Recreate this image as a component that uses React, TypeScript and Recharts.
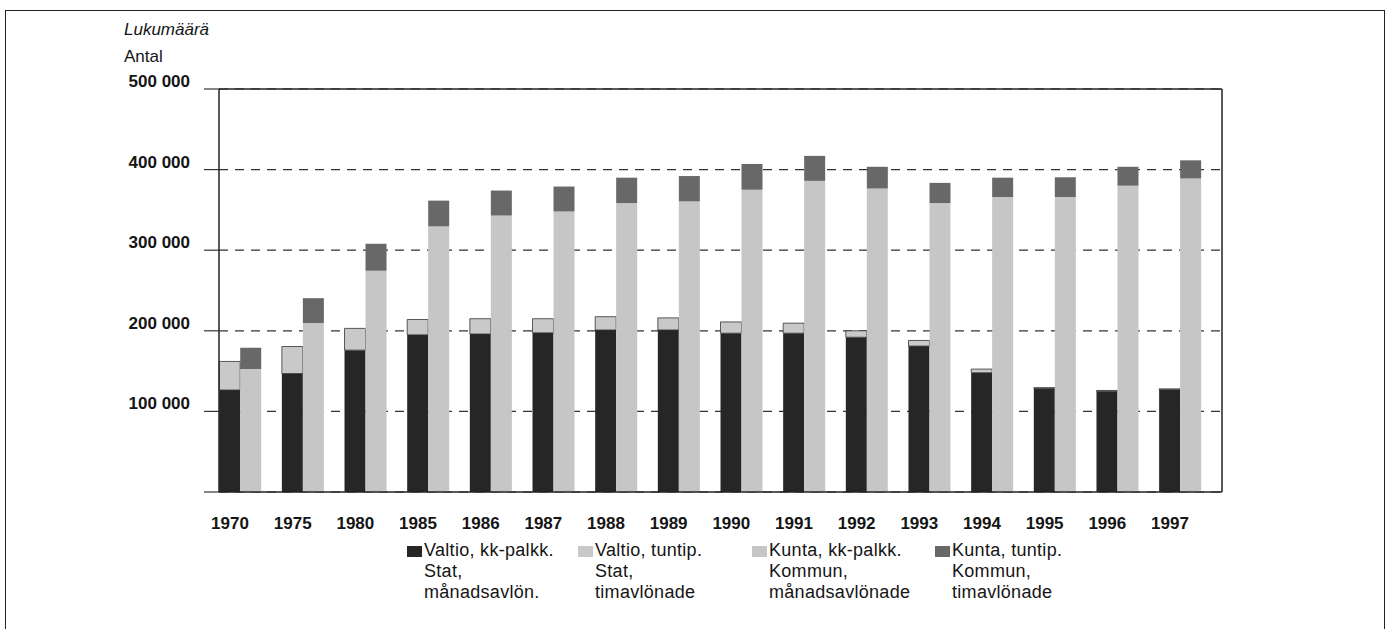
import React from 'react';
import { BarChart, Bar, XAxis, YAxis, CartesianGrid, ReferenceLine, Legend } from 'recharts';

const years = ['1970', '1975', '1980', '1985', '1986', '1987', '1988', '1989', '1990', '1991', '1992', '1993', '1994', '1995', '1996', '1997'];
const valtioKk = [126500, 147000, 176000, 195000, 196000, 197500, 201000, 201000, 197000, 197000, 192000, 181000, 148000, 128500, 125000, 127000];
const valtioTt = [35500, 33500, 27000, 19000, 19000, 17500, 16500, 15000, 14000, 12500, 8000, 7000, 4500, 1000, 1000, 1000];
const kuntaKk = [152500, 209500, 274500, 329500, 343000, 348000, 358500, 360500, 375000, 386000, 376500, 358500, 366000, 366000, 380000, 389000];
const kuntaTt = [26500, 31000, 33500, 32000, 31000, 31000, 31500, 31500, 32000, 31000, 27000, 25000, 24000, 24500, 23500, 22500];
const yTicks = [0, 100000, 200000, 300000, 400000, 500000];

const seriesKeys = ['valtioKk', 'valtioTt', 'kuntaKk', 'kuntaTt'];
const seriesNames = ['Valtio, kk-palkk.', 'Valtio, tuntip.', 'Kunta, kk-palkk.', 'Kunta, tuntip.'];
const legendLines = [
  ['Valtio, kk-palkk.', 'Stat,', 'månadsavlön.'],
  ['Valtio, tuntip.', 'Stat,', 'timavlönade'],
  ['Kunta, kk-palkk.', 'Kommun,', 'månadsavlönade'],
  ['Kunta, tuntip.', 'Kommun,', 'timavlönade'],
];
const colors = ['#262626', '#c9c9c9', '#c6c6c6', '#686868'];
const legendLefts = [407, 578, 752, 935];

const data = years.map((y, i) => ({
  year: y,
  valtioKk: valtioKk[i],
  valtioTt: valtioTt[i],
  kuntaKk: kuntaKk[i],
  kuntaTt: kuntaTt[i],
}));

const FONT = "'Liberation Sans', Arial, sans-serif";
const INK = '#151515';

const fmt = (v: number) => {
  if (v === 0) return '';
  const t = Math.round(v / 1000);
  return `${t} 000`;
};

const YTick = (props: any) => {
  const { x, y, payload } = props;
  return (
    <text x={x} y={y - 2} textAnchor="end" fontFamily={FONT} fontWeight="bold" fontSize={17} fill={INK}>
      {fmt(payload.value)}
    </text>
  );
};

const XTick = (props: any) => {
  const { x, y, payload } = props;
  return (
    <text x={x - 10.5} y={y + 37} textAnchor="middle" fontFamily={FONT} fontWeight="bold" fontSize={17} fill={INK}>
      {payload.value}
    </text>
  );
};

const LegendContent = (props: any) => {
  const payload = props.payload || [];
  return (
    <div style={{ position: 'relative', width: 1391, height: 70, fontFamily: FONT, fontSize: 18, color: INK }}>
      {payload.map((p: any) => {
        const idx = seriesKeys.indexOf(p.dataKey);
        if (idx < 0) return null;
        return (
          <div key={p.dataKey} style={{ position: 'absolute', left: legendLefts[idx], top: 0, display: 'flex' }}>
            <div style={{ width: 15, height: 11, background: colors[idx], marginTop: 6, marginRight: 2 }} />
            <div style={{ lineHeight: '21px', whiteSpace: 'nowrap', letterSpacing: '0.3px' }}>
              {legendLines[idx].map((l) => (
                <div key={l}>{l}</div>
              ))}
            </div>
          </div>
        );
      })}
    </div>
  );
};

export default function App() {
  return (
    <div style={{ position: 'absolute', left: 0, top: 0, width: 1391, height: 629, overflow: 'hidden', background: '#fff' }}>
      <div
        style={{
          position: 'absolute',
          left: 5,
          top: 10,
          width: 1378,
          height: 700,
          borderTop: '1.5px solid #222',
          borderLeft: '1.5px solid #222',
          borderRight: '1.5px solid #222',
        }}
      />
      <div style={{ position: 'absolute', left: 124, top: 21, fontFamily: FONT, fontStyle: 'italic', fontSize: 17, lineHeight: '17px', color: INK }}>
        Lukumäärä
      </div>
      <div style={{ position: 'absolute', left: 124, top: 48, fontFamily: FONT, fontSize: 17, lineHeight: '17px', color: INK }}>
        Antal
      </div>
      <div style={{ position: 'absolute', left: 0, top: 0 }}>
        <BarChart
          width={1391}
          height={629}
          data={data}
          margin={{ top: 89, right: 168, bottom: 37, left: 129 }}
          barCategoryGap={10}
          barGap={0}
        >
          <CartesianGrid yAxisId="left" horizontal vertical={false} stroke="#333" strokeWidth={1.2} strokeDasharray="9 7" />
          <XAxis
            dataKey="year"
            axisLine={{ stroke: '#222', strokeWidth: 1.5 }}
            tickLine={false}
            tickSize={0}
            tickMargin={0}
            height={30}
            interval={0}
            padding={{ left: -9.8, right: 10.2 }}
            tick={<XTick />}
          />
          <YAxis
            yAxisId="left"
            width={90}
            domain={[0, 500000]}
            ticks={yTicks}
            axisLine={{ stroke: '#222', strokeWidth: 1.5 }}
            tickLine={{ stroke: '#333', strokeWidth: 1.2 }}
            tickSize={15}
            tickMargin={14}
            tick={<YTick />}
          />
          <YAxis
            yAxisId="right"
            orientation="right"
            width={1}
            domain={[0, 500000]}
            ticks={yTicks}
            axisLine={{ stroke: '#222', strokeWidth: 1.5 }}
            tickLine={false}
            tick={false}
          />
          <ReferenceLine yAxisId="left" y={500000} stroke="#222" strokeWidth={1.5} strokeDasharray="0" />
          {seriesKeys.map((k, i) => (
            <Bar
              key={k}
              yAxisId="left"
              dataKey={k}
              name={seriesNames[i]}
              stackId={i < 2 ? 'valtio' : 'kunta'}
              fill={colors[i]}
              stroke={i === 1 ? '#333' : 'none'}
              strokeWidth={i === 1 ? 0.8 : 0}
              isAnimationActive={false}
            />
          ))}
          <Legend
            verticalAlign="bottom"
            content={<LegendContent />}
            wrapperStyle={{ left: 0, top: 540, bottom: 'auto', width: 1391, height: 70 }}
          />
        </BarChart>
      </div>
    </div>
  );
}
